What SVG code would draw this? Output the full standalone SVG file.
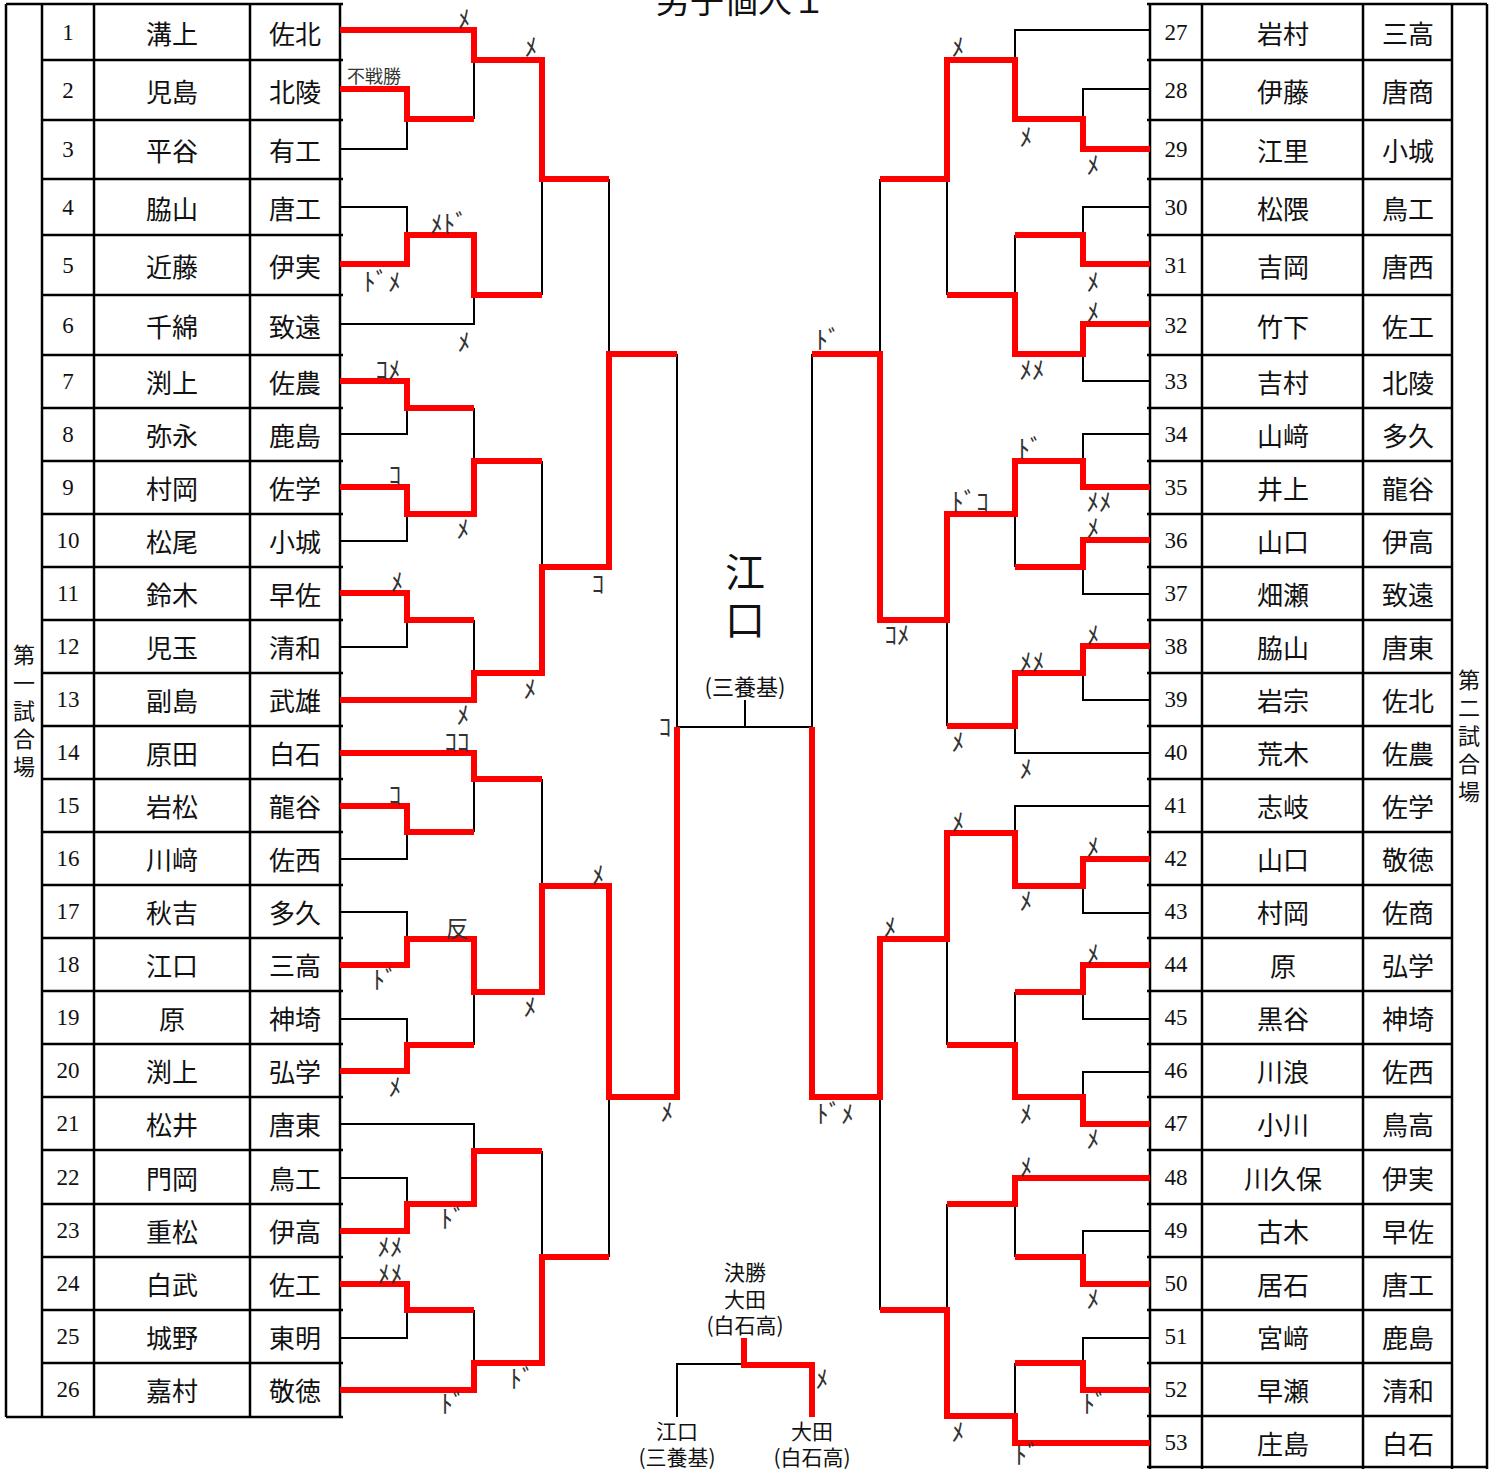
<svg xmlns="http://www.w3.org/2000/svg" width="1498" height="1469" viewBox="0 0 1498 1469">
<style>
.tb{stroke:#000;stroke-width:2.5;fill:none}
.bk{stroke:#000;stroke-width:2;fill:none}
.rd{stroke:#ff0000;stroke-width:6;fill:none;stroke-linejoin:miter}
.num{font-family:"Liberation Serif","Noto Sans CJK JP",serif;font-size:23px;text-anchor:middle;dominant-baseline:central;fill:#111}
.jp{font-family:"Noto Sans CJK JP","Liberation Serif",serif;font-size:26px;text-anchor:middle;dominant-baseline:central;fill:#111}
.lb{font-family:"Noto Sans CJK JP",sans-serif;font-size:25px;fill:#333;text-anchor:middle;dominant-baseline:central}
.ven{font-family:"Noto Sans CJK JP",serif;font-size:22px;text-anchor:middle;dominant-baseline:central;fill:#111}
.ctr{font-family:"Noto Sans CJK JP","Liberation Serif",serif;text-anchor:middle;dominant-baseline:central;fill:#111}
</style>
<rect width="1498" height="1469" fill="#fff"/>
<text id="title" class="ctr" x="741" y="-2" style="font-size:34px">男子個人１</text>

<g id="left-table">
<path class="tb" d="M6,4V1417M42,4V1417M94,4V1417M250,4V1417M340,4V1417M6,4H343M6,1417H343"/>
<path class="tb" d="M42,60H343M42,120H343M42,179H343M42,235H343M42,295H343M42,355H343M42,408H343M42,461H343M42,514H343M42,567H343M42,620H343M42,673H343M42,726H343M42,779H343M42,832H343M42,885H343M42,938H343M42,991H343M42,1044H343M42,1097H343M42,1150H343M42,1204H343M42,1257H343M42,1310H343M42,1363H343"/>
<text class="ven" x="24"><tspan x="24" y="653">第</tspan><tspan x="24" y="681">一</tspan><tspan x="24" y="709">試</tspan><tspan x="24" y="737">合</tspan><tspan x="24" y="765">場</tspan></text>
</g>

<g id="right-table">
<path class="tb" d="M1150,4V1469M1202,4V1469M1363,4V1469M1452,4V1469M1487,4V1469M1147,4H1487M1147,1467H1487"/>
<path class="tb" d="M1147,60H1452M1147,120H1452M1147,179H1452M1147,235H1452M1147,295H1452M1147,355H1452M1147,408H1452M1147,461H1452M1147,514H1452M1147,567H1452M1147,620H1452M1147,673H1452M1147,726H1452M1147,779H1452M1147,832H1452M1147,885H1452M1147,938H1452M1147,991H1452M1147,1044H1452M1147,1097H1452M1147,1150H1452M1147,1204H1452M1147,1257H1452M1147,1310H1452M1147,1363H1452M1147,1416H1452"/>
<text class="ven" x="1469"><tspan x="1469" y="678">第</tspan><tspan x="1469" y="706">二</tspan><tspan x="1469" y="734">試</tspan><tspan x="1469" y="762">合</tspan><tspan x="1469" y="790">場</tspan></text>
</g>

<g id="p1"><text class="num" x="68" y="32">1</text><text class="jp" x="172" y="32">溝上</text><text class="jp" x="295" y="32">佐北</text></g>
<g id="p2"><text class="num" x="68" y="90">2</text><text class="jp" x="172" y="90">児島</text><text class="jp" x="295" y="90">北陵</text></g>
<g id="p3"><text class="num" x="68" y="149">3</text><text class="jp" x="172" y="149">平谷</text><text class="jp" x="295" y="149">有工</text></g>
<g id="p4"><text class="num" x="68" y="207">4</text><text class="jp" x="172" y="207">脇山</text><text class="jp" x="295" y="207">唐工</text></g>
<g id="p5"><text class="num" x="68" y="265">5</text><text class="jp" x="172" y="265">近藤</text><text class="jp" x="295" y="265">伊実</text></g>
<g id="p6"><text class="num" x="68" y="325">6</text><text class="jp" x="172" y="325">千綿</text><text class="jp" x="295" y="325">致遠</text></g>
<g id="p7"><text class="num" x="68" y="381">7</text><text class="jp" x="172" y="381">渕上</text><text class="jp" x="295" y="381">佐農</text></g>
<g id="p8"><text class="num" x="68" y="434">8</text><text class="jp" x="172" y="434">弥永</text><text class="jp" x="295" y="434">鹿島</text></g>
<g id="p9"><text class="num" x="68" y="487">9</text><text class="jp" x="172" y="487">村岡</text><text class="jp" x="295" y="487">佐学</text></g>
<g id="p10"><text class="num" x="68" y="540">10</text><text class="jp" x="172" y="540">松尾</text><text class="jp" x="295" y="540">小城</text></g>
<g id="p11"><text class="num" x="68" y="593">11</text><text class="jp" x="172" y="593">鈴木</text><text class="jp" x="295" y="593">早佐</text></g>
<g id="p12"><text class="num" x="68" y="646">12</text><text class="jp" x="172" y="646">児玉</text><text class="jp" x="295" y="646">清和</text></g>
<g id="p13"><text class="num" x="68" y="699">13</text><text class="jp" x="172" y="699">副島</text><text class="jp" x="295" y="699">武雄</text></g>
<g id="p14"><text class="num" x="68" y="752">14</text><text class="jp" x="172" y="752">原田</text><text class="jp" x="295" y="752">白石</text></g>
<g id="p15"><text class="num" x="68" y="805">15</text><text class="jp" x="172" y="805">岩松</text><text class="jp" x="295" y="805">龍谷</text></g>
<g id="p16"><text class="num" x="68" y="858">16</text><text class="jp" x="172" y="858">川﨑</text><text class="jp" x="295" y="858">佐西</text></g>
<g id="p17"><text class="num" x="68" y="911">17</text><text class="jp" x="172" y="911">秋吉</text><text class="jp" x="295" y="911">多久</text></g>
<g id="p18"><text class="num" x="68" y="964">18</text><text class="jp" x="172" y="964">江口</text><text class="jp" x="295" y="964">三高</text></g>
<g id="p19"><text class="num" x="68" y="1017">19</text><text class="jp" x="172" y="1017">原</text><text class="jp" x="295" y="1017">神埼</text></g>
<g id="p20"><text class="num" x="68" y="1070">20</text><text class="jp" x="172" y="1070">渕上</text><text class="jp" x="295" y="1070">弘学</text></g>
<g id="p21"><text class="num" x="68" y="1123">21</text><text class="jp" x="172" y="1123">松井</text><text class="jp" x="295" y="1123">唐東</text></g>
<g id="p22"><text class="num" x="68" y="1177">22</text><text class="jp" x="172" y="1177">門岡</text><text class="jp" x="295" y="1177">鳥工</text></g>
<g id="p23"><text class="num" x="68" y="1230">23</text><text class="jp" x="172" y="1230">重松</text><text class="jp" x="295" y="1230">伊高</text></g>
<g id="p24"><text class="num" x="68" y="1283">24</text><text class="jp" x="172" y="1283">白武</text><text class="jp" x="295" y="1283">佐工</text></g>
<g id="p25"><text class="num" x="68" y="1336">25</text><text class="jp" x="172" y="1336">城野</text><text class="jp" x="295" y="1336">東明</text></g>
<g id="p26"><text class="num" x="68" y="1389">26</text><text class="jp" x="172" y="1389">嘉村</text><text class="jp" x="295" y="1389">敬徳</text></g>

<g id="p27"><text class="num" x="1176" y="32">27</text><text class="jp" x="1283" y="32">岩村</text><text class="jp" x="1408" y="32">三高</text></g>
<g id="p28"><text class="num" x="1176" y="90">28</text><text class="jp" x="1283" y="90">伊藤</text><text class="jp" x="1408" y="90">唐商</text></g>
<g id="p29"><text class="num" x="1176" y="149">29</text><text class="jp" x="1283" y="149">江里</text><text class="jp" x="1408" y="149">小城</text></g>
<g id="p30"><text class="num" x="1176" y="207">30</text><text class="jp" x="1283" y="207">松隈</text><text class="jp" x="1408" y="207">鳥工</text></g>
<g id="p31"><text class="num" x="1176" y="265">31</text><text class="jp" x="1283" y="265">吉岡</text><text class="jp" x="1408" y="265">唐西</text></g>
<g id="p32"><text class="num" x="1176" y="325">32</text><text class="jp" x="1283" y="325">竹下</text><text class="jp" x="1408" y="325">佐工</text></g>
<g id="p33"><text class="num" x="1176" y="381">33</text><text class="jp" x="1283" y="381">吉村</text><text class="jp" x="1408" y="381">北陵</text></g>
<g id="p34"><text class="num" x="1176" y="434">34</text><text class="jp" x="1283" y="434">山﨑</text><text class="jp" x="1408" y="434">多久</text></g>
<g id="p35"><text class="num" x="1176" y="487">35</text><text class="jp" x="1283" y="487">井上</text><text class="jp" x="1408" y="487">龍谷</text></g>
<g id="p36"><text class="num" x="1176" y="540">36</text><text class="jp" x="1283" y="540">山口</text><text class="jp" x="1408" y="540">伊高</text></g>
<g id="p37"><text class="num" x="1176" y="593">37</text><text class="jp" x="1283" y="593">畑瀬</text><text class="jp" x="1408" y="593">致遠</text></g>
<g id="p38"><text class="num" x="1176" y="646">38</text><text class="jp" x="1283" y="646">脇山</text><text class="jp" x="1408" y="646">唐東</text></g>
<g id="p39"><text class="num" x="1176" y="699">39</text><text class="jp" x="1283" y="699">岩宗</text><text class="jp" x="1408" y="699">佐北</text></g>
<g id="p40"><text class="num" x="1176" y="752">40</text><text class="jp" x="1283" y="752">荒木</text><text class="jp" x="1408" y="752">佐農</text></g>
<g id="p41"><text class="num" x="1176" y="805">41</text><text class="jp" x="1283" y="805">志岐</text><text class="jp" x="1408" y="805">佐学</text></g>
<g id="p42"><text class="num" x="1176" y="858">42</text><text class="jp" x="1283" y="858">山口</text><text class="jp" x="1408" y="858">敬徳</text></g>
<g id="p43"><text class="num" x="1176" y="911">43</text><text class="jp" x="1283" y="911">村岡</text><text class="jp" x="1408" y="911">佐商</text></g>
<g id="p44"><text class="num" x="1176" y="964">44</text><text class="jp" x="1283" y="964">原</text><text class="jp" x="1408" y="964">弘学</text></g>
<g id="p45"><text class="num" x="1176" y="1017">45</text><text class="jp" x="1283" y="1017">黒谷</text><text class="jp" x="1408" y="1017">神埼</text></g>
<g id="p46"><text class="num" x="1176" y="1070">46</text><text class="jp" x="1283" y="1070">川浪</text><text class="jp" x="1408" y="1070">佐西</text></g>
<g id="p47"><text class="num" x="1176" y="1123">47</text><text class="jp" x="1283" y="1123">小川</text><text class="jp" x="1408" y="1123">鳥高</text></g>
<g id="p48"><text class="num" x="1176" y="1177">48</text><text class="jp" x="1283" y="1177">川久保</text><text class="jp" x="1408" y="1177">伊実</text></g>
<g id="p49"><text class="num" x="1176" y="1230">49</text><text class="jp" x="1283" y="1230">古木</text><text class="jp" x="1408" y="1230">早佐</text></g>
<g id="p50"><text class="num" x="1176" y="1283">50</text><text class="jp" x="1283" y="1283">居石</text><text class="jp" x="1408" y="1283">唐工</text></g>
<g id="p51"><text class="num" x="1176" y="1336">51</text><text class="jp" x="1283" y="1336">宮﨑</text><text class="jp" x="1408" y="1336">鹿島</text></g>
<g id="p52"><text class="num" x="1176" y="1389">52</text><text class="jp" x="1283" y="1389">早瀬</text><text class="jp" x="1408" y="1389">清和</text></g>
<g id="p53"><text class="num" x="1176" y="1442">53</text><text class="jp" x="1283" y="1442">庄島</text><text class="jp" x="1408" y="1442">白石</text></g>

<g id="center-winner">
<text class="ctr" x="745" y="570" style="font-size:40px">江</text>
<text class="ctr" x="745" y="618" style="font-size:40px">口</text>
<text class="ctr" x="745" y="685" style="font-size:22px">(三養基)</text>
</g>
<g id="final">
<text class="ctr" x="745" y="1271" style="font-size:21px">決勝</text>
<text class="ctr" x="745" y="1298" style="font-size:21px">大田</text>
<text class="ctr" x="745" y="1324" style="font-size:21px">(白石高)</text>
</g>
<g id="final-left"><text class="ctr" x="677" y="1430" style="font-size:21px">江口</text><text class="ctr" x="677" y="1456" style="font-size:21px">(三養基)</text></g>
<g id="final-right"><text class="ctr" x="812" y="1430" style="font-size:21px">大田</text><text class="ctr" x="812" y="1456" style="font-size:21px">(白石高)</text></g>

<g id="connectors">
<path class="bk" d="M340,149H407V119M474,60V119M340,207H407V235M340,324H474V295M542,179V295M609,179V354M340,434H407V408M340,541H407V514M474,408V461M340,647H407V620M474,620V673M542,461V567M677,354V727M474,779V832M340,859H407V832M542,779V886M340,912H407V939M340,1019H407V1045M474,992V1045M609,1097V1257M340,1124H474V1151M340,1178H407V1204M340,1338H407V1311M474,1310V1363M542,1151V1257"/>
<path class="bk" d="M677,727H812M745,700V727M744,1364H677V1417"/>
<path class="bk" d="M1150,30H1015V60M1150,89H1083V119M1150,207H1083V235M1015,235V295M947,179V295M880,179V354M1150,381H1083V354M1150,434H1083V461M1015,514V567M1150,594H1083V567M1150,700H1083V673M1150,753H1015V726M947,620V726M812,354V727M1150,806H1015V833M1150,913H1083V886M947,939V1045M1150,1019H1083V992M1015,992V1045M1150,1072H1083V1097M880,1097V1310M1150,1231H1083V1257M1015,1204V1257M1150,1338H1083V1363M1015,1363V1416M947,1204V1310"/>
<path class="rd" d="M340,30H474V60H542V179H609M340,89H407V119H474M340,264H407V235H474V295H542M340,381H407V408H474M340,487H407V514H474V461H542M340,593H407V620H474M340,700H474V673H542V567H609V354H677M340,753H474V779H542M340,806H407V832H474M340,965H407V939H474V992H542V886H609V1097H677V727M340,1071H407V1045H474M340,1231H407V1204H474V1151H542M340,1284H407V1310H474M340,1390H474V1363H542V1257H609"/>
<path class="rd" d="M1150,149H1083V119H1015V60H947V179H880M1150,264H1083V235H1015M1150,324H1083V354H1015V295H947M1150,487H1083V461H1015V514H947V620H880V354H812M1150,540H1083V567H1015M1150,646H1083V673H1015V726H947M1150,859H1083V886H1015V833H947V939H880V1097H812V727M1150,965H1083V992H1015M1150,1124H1083V1097H1015V1045H947M1150,1178H1015V1204H947M1150,1284H1083V1257H1015M1150,1390H1083V1363H1015M1150,1443H1015V1416H947V1310H880"/>
<path class="rd" d="M744,1338V1365H812V1417"/>
</g>

<g id="labels">
<text class="lb" x="464" y="17">ﾒ</text>
<text class="lb" x="531" y="45">ﾒ</text>
<text class="lb" x="374" y="75" style="font-size:18px">不戦勝</text>
<text class="lb" x="449" y="222">ﾒﾄﾞ</text>
<text class="lb" x="382" y="280">ﾄﾞﾒ</text>
<text class="lb" x="464" y="340">ﾒ</text>
<text class="lb" x="388" y="368">ｺﾒ</text>
<text class="lb" x="395" y="473">ｺ</text>
<text class="lb" x="463" y="527">ﾒ</text>
<text class="lb" x="397" y="580">ﾒ</text>
<text class="lb" x="598" y="582">ｺ</text>
<text class="lb" x="530" y="687">ﾒ</text>
<text class="lb" x="463" y="713">ﾒ</text>
<text class="lb" x="457" y="740">ｺｺ</text>
<text class="lb" x="665" y="725">ｺ</text>
<text class="lb" x="395" y="793">ｺ</text>
<text class="lb" x="598" y="873">ﾒ</text>
<text class="lb" x="457" y="927" style="font-size:23px">反</text>
<text class="lb" x="385" y="978">ﾄﾞ</text>
<text class="lb" x="530" y="1005">ﾒ</text>
<text class="lb" x="395" y="1085">ﾒ</text>
<text class="lb" x="667" y="1110">ﾒ</text>
<text class="lb" x="453" y="1217">ﾄﾞ</text>
<text class="lb" x="390" y="1245">ﾒﾒ</text>
<text class="lb" x="390" y="1272">ﾒﾒ</text>
<text class="lb" x="522" y="1377">ﾄﾞ</text>
<text class="lb" x="453" y="1402">ﾄﾞ</text>
<text class="lb" x="958" y="45">ﾒ</text>
<text class="lb" x="1026" y="135">ﾒ</text>
<text class="lb" x="1093" y="163">ﾒ</text>
<text class="lb" x="1093" y="280">ﾒ</text>
<text class="lb" x="1093" y="310">ﾒ</text>
<text class="lb" x="1032" y="368">ﾒﾒ</text>
<text class="lb" x="828" y="338">ﾄﾞ</text>
<text class="lb" x="1030" y="447">ﾄﾞ</text>
<text class="lb" x="1099" y="500">ﾒﾒ</text>
<text class="lb" x="970" y="500">ﾄﾞｺ</text>
<text class="lb" x="1093" y="526">ﾒ</text>
<text class="lb" x="897" y="633">ｺﾒ</text>
<text class="lb" x="1093" y="633">ﾒ</text>
<text class="lb" x="1032" y="660">ﾒﾒ</text>
<text class="lb" x="958" y="740">ﾒ</text>
<text class="lb" x="1026" y="767">ﾒ</text>
<text class="lb" x="958" y="820">ﾒ</text>
<text class="lb" x="1093" y="845">ﾒ</text>
<text class="lb" x="1026" y="899">ﾒ</text>
<text class="lb" x="890" y="925">ﾒ</text>
<text class="lb" x="1093" y="952">ﾒ</text>
<text class="lb" x="1026" y="1112">ﾒ</text>
<text class="lb" x="835" y="1112">ﾄﾞﾒ</text>
<text class="lb" x="1093" y="1137">ﾒ</text>
<text class="lb" x="1026" y="1165">ﾒ</text>
<text class="lb" x="1093" y="1297">ﾒ</text>
<text class="lb" x="1095" y="1402">ﾄﾞ</text>
<text class="lb" x="958" y="1430">ﾒ</text>
<text class="lb" x="1027" y="1453">ﾄﾞ</text>
<text class="lb" x="822" y="1377">ﾒ</text>
</g>
</svg>
